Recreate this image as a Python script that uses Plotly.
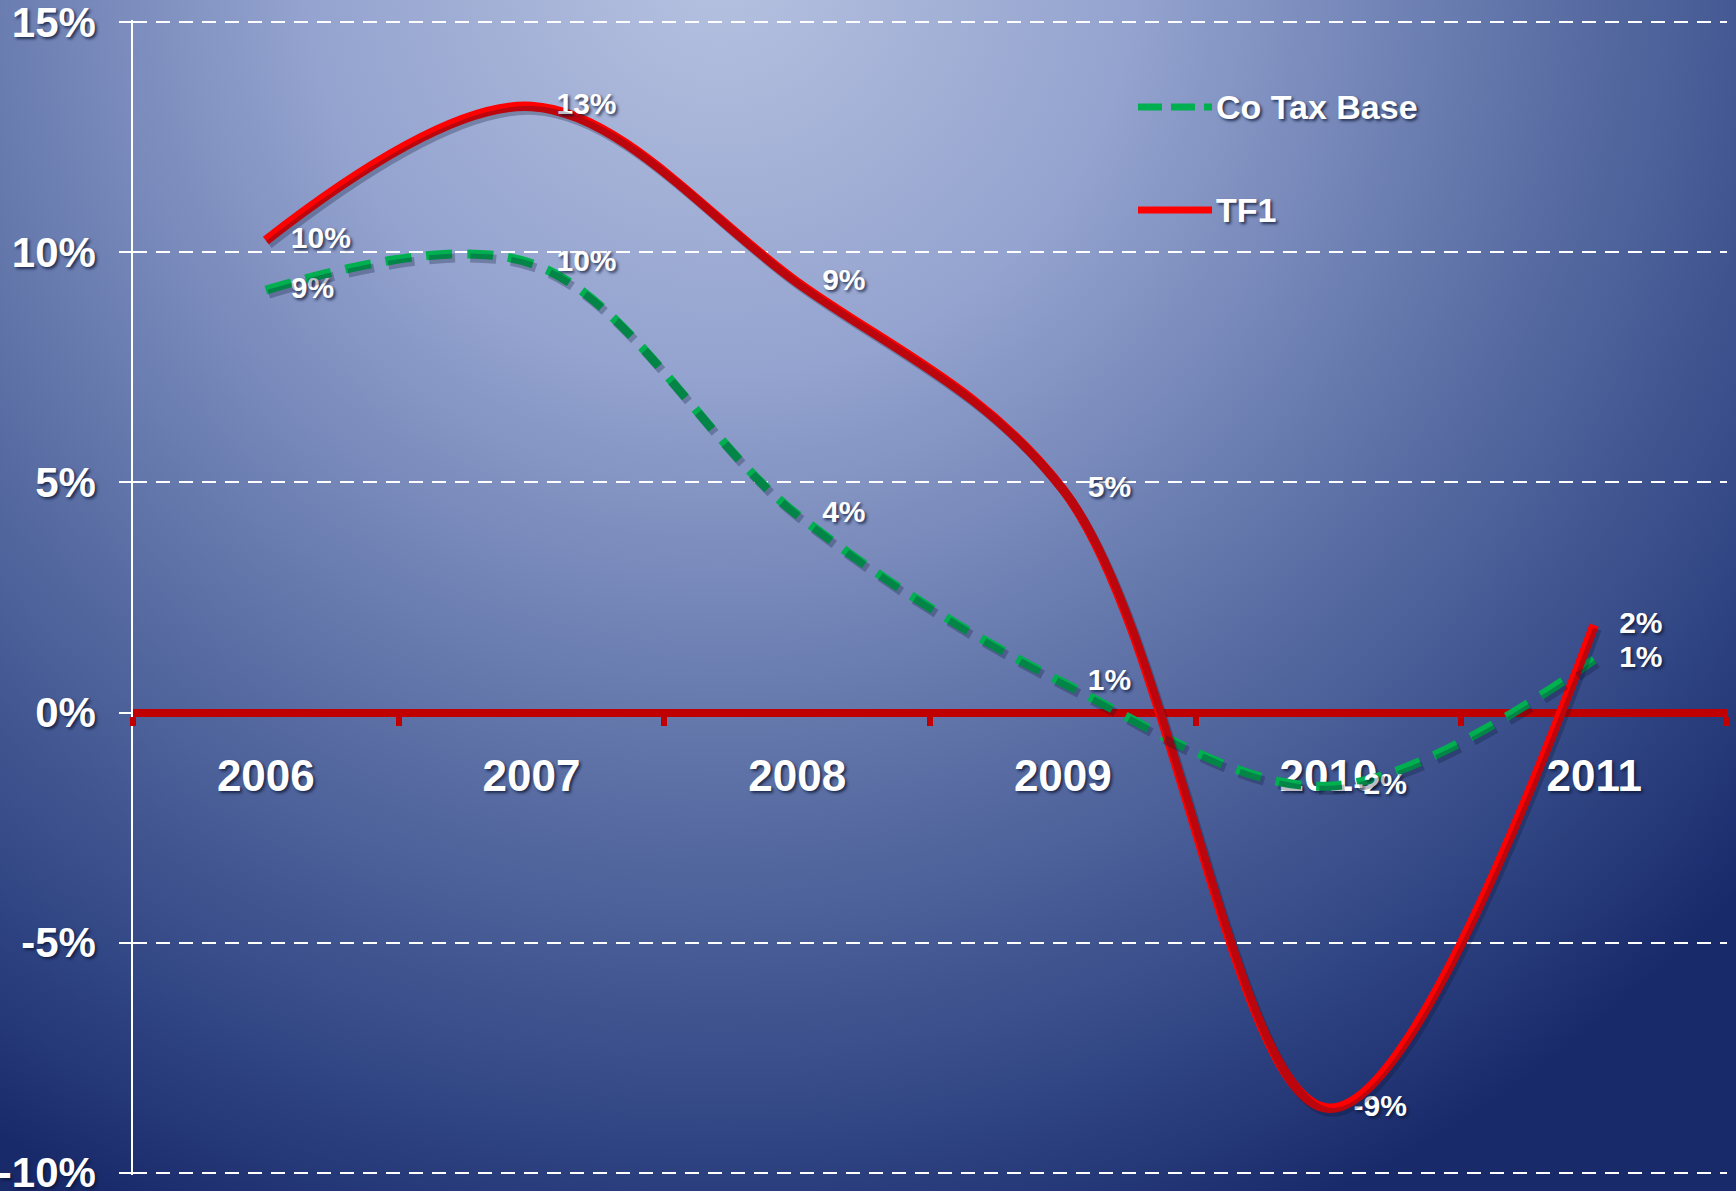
import base64
import plotly.graph_objects as go

# ---------------- data ----------------
years = ["2006", "2007", "2008", "2009", "2010", "2011"]
co_tax_base = [0.0918, 0.0976, 0.0430, 0.0065, -0.0160, 0.0115]
tf1 = [0.1026, 0.1317, 0.0935, 0.0485, -0.0860, 0.0190]
y_ticks = [-0.10, -0.05, 0.0, 0.05, 0.10, 0.15]
y_tick_labels = ["-10%", "-5%", "0%", "5%", "10%", "15%"]
series_names = ["Co Tax Base", "TF1"]

W, H = 1736, 1191
EPS = 0.0005
ML, MR, MT, MB = 133, 9, 20, 16
PW, PH = W - ML - MR, H - MT - MB
YMIN, YMAX = -0.10 - EPS, 0.15 + EPS

FONT = "Liberation Sans, Arial, sans-serif"
TXT_SHADOW = "2px 2px 3px rgba(10,20,50,0.75)"
GREEN, RED, AXRED = "#00b050", "#ff0000", "#c00000"
GREEN_DASH = "26px,15px"

# ---------------- background gradient (svg data uri) ----------------
svg = f'''<svg xmlns="http://www.w3.org/2000/svg" width="{W}" height="{H}" viewBox="0 0 {W} {H}" preserveAspectRatio="none">
<defs><radialGradient id="g" gradientUnits="userSpaceOnUse" cx="720" cy="-40" r="1380">
<stop offset="0" stop-color="#b6c2e0"/>
<stop offset="0.3" stop-color="#94a3cf"/>
<stop offset="0.6" stop-color="#5c70a6"/>
<stop offset="0.85" stop-color="#314684"/>
<stop offset="1" stop-color="#192a6b"/>
</radialGradient></defs>
<rect x="0" y="0" width="{W}" height="{H}" fill="url(#g)"/></svg>'''
bg_uri = "data:image/svg+xml;base64," + base64.b64encode(svg.encode()).decode()

fig = go.Figure()

# shadow offsets (pixels -> axis units)
cat_px = PW / len(years)
dx = 3 / cat_px
dy = 4 / (PH / (YMAX - YMIN))

shadow_col = "rgba(10,20,50,0.28)"
fig.add_trace(go.Scatter(x=years, y=co_tax_base, mode="lines", xaxis="x2", yaxis="y2",
                         line=dict(color=shadow_col, width=9, shape="spline", smoothing=1, dash=GREEN_DASH),
                         showlegend=False, hoverinfo="skip"))
fig.add_trace(go.Scatter(x=years, y=tf1, mode="lines", xaxis="x2", yaxis="y2",
                         line=dict(color=shadow_col, width=9, shape="spline", smoothing=1),
                         showlegend=False, hoverinfo="skip"))

label_font = dict(family=FONT, size=30, color="white", weight="bold", shadow=TXT_SHADOW)

fig.add_trace(go.Scatter(
    x=years, y=co_tax_base, name=series_names[0], mode="lines+text",
    line=dict(color=GREEN, width=9, shape="spline", smoothing=1, dash=GREEN_DASH),
    texttemplate="   %{y:.0%}", textposition="middle right", textfont=label_font,
    cliponaxis=False, showlegend=False,
))
fig.add_trace(go.Scatter(
    x=years, y=tf1, name=series_names[1], mode="lines+text",
    line=dict(color=RED, width=9.5, shape="spline", smoothing=1),
    texttemplate="   %{y:.0%}", textposition="middle right", textfont=label_font,
    cliponaxis=False, showlegend=False,
))

# ---------------- custom legend (long line samples) ----------------
leg_x0 = (1138 - ML) / PW
leg_x1 = (1212 - ML) / PW
leg_tx = (1214 - ML) / PW
leg_y = [1 - (107 - MT) / PH, 1 - (210 - MT) / PH]
leg_styles = [dict(color=GREEN, width=7, dash="24px,9px"), dict(color=RED, width=7)]
shapes, annotations = [], []
for name, yy, st in zip(series_names, leg_y, leg_styles):
    shapes.append(dict(type="line", xref="paper", yref="paper", x0=leg_x0, x1=leg_x1,
                       y0=yy, y1=yy, line=st))
    annotations.append(dict(text=name, xref="paper", yref="paper", x=leg_tx, y=yy,
                            xanchor="left", yanchor="middle", showarrow=False,
                            font=dict(family=FONT, size=34, color="white", weight="bold",
                                      shadow=TXT_SHADOW)))

zero_pos = (0 - YMIN) / (YMAX - YMIN)

fig.update_layout(
    template="none",
    width=W, height=H,
    margin=dict(l=ML, r=MR, t=MT, b=MB, autoexpand=False),
    paper_bgcolor="#4a5d96",
    plot_bgcolor="rgba(0,0,0,0)",
    font=dict(family=FONT, color="white"),
    showlegend=False,
    shapes=shapes, annotations=annotations,
    images=[dict(source=bg_uri, xref="paper", yref="paper",
                 x=-ML / PW, y=1 + MT / PH, sizex=W / PW, sizey=H / PH,
                 sizing="stretch", layer="below", xanchor="left", yanchor="top")],
    xaxis=dict(
        type="category", range=[-0.5, len(years) - 0.5],
        anchor="free", position=zero_pos, automargin=False,
        showline=True, linecolor=AXRED, linewidth=8,
        ticks="outside", tickson="boundaries", ticklen=9, tickwidth=6, tickcolor=AXRED,
        showgrid=False, zeroline=False, layer="below traces",
        tickfont=dict(family=FONT, size=44, color="white", weight="bold", shadow=TXT_SHADOW),
        ticklabelstandoff=22, ticklabeloverflow="allow",
    ),
    yaxis=dict(
        range=[YMIN, YMAX], tickvals=y_ticks, ticktext=y_tick_labels,
        automargin=False, ticklabeloverflow="allow",
        showline=True, linecolor="white", linewidth=1.5,
        ticks="outside", ticklen=12, tickwidth=1.5, tickcolor="white",
        showgrid=True, gridcolor="white", gridwidth=1.5, griddash="14px,9px",
        zeroline=False, layer="below traces",
        tickfont=dict(family=FONT, size=42, color="white", weight="bold", shadow=TXT_SHADOW),
        ticklabelstandoff=15,
    ),
    xaxis2=dict(type="category", range=[-0.5 - dx, len(years) - 0.5 - dx], overlaying="x",
                visible=False, anchor="y2", automargin=False),
    yaxis2=dict(range=[YMIN + dy, YMAX + dy], overlaying="y", visible=False,
                anchor="x2", automargin=False),
)

fig.write_html("out.html", config={"displayModeBar": False},
               post_script="document.body.style.margin='0';document.body.style.overflow='hidden';")
